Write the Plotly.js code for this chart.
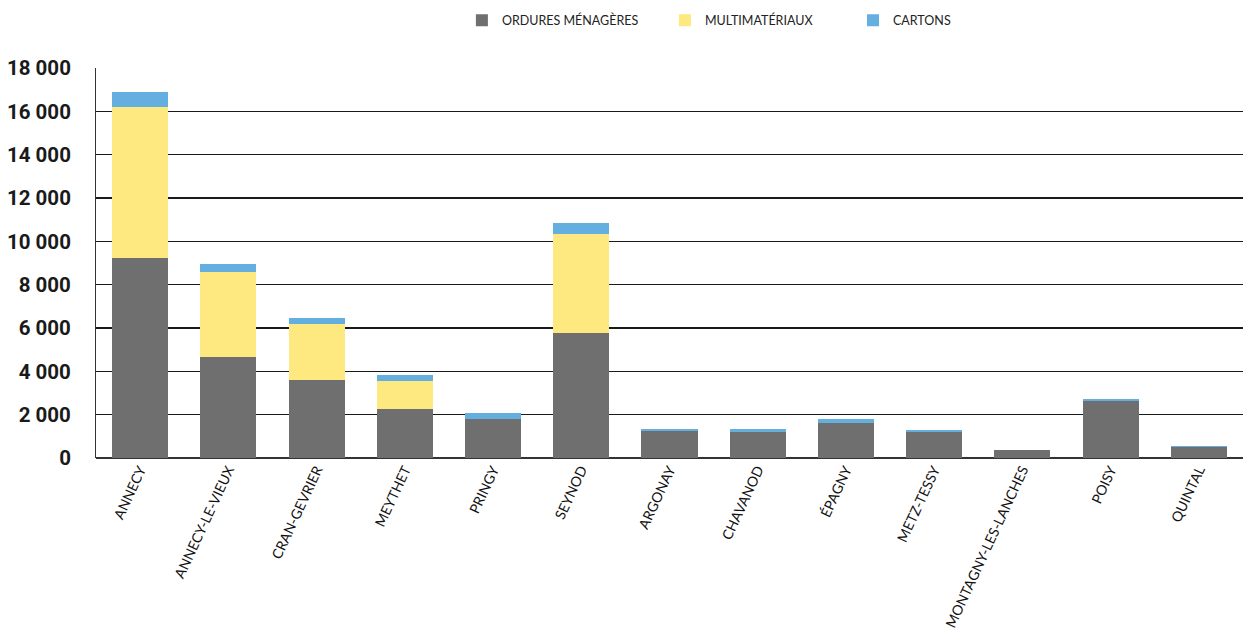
<!DOCTYPE html>
<html>
<head>
<meta charset="utf-8">
<script src="https://cdn.plot.ly/plotly-3.0.1.min.js"></script>
<style>html,body{margin:0;padding:0;background:#fff;}#chart{width:1243px;height:632px;}</style>
</head>
<body>
<div id="chart"></div>
<script>
const communes = ["ANNECY","ANNECY-LE-VIEUX","CRAN-GEVRIER","MEYTHET","PRINGY","SEYNOD","ARGONAY","CHAVANOD","ÉPAGNY","METZ-TESSY","MONTAGNY-LES-LANCHES","POISY","QUINTAL"];
const orduresMenageres = [9230, 4680, 3600, 2260, 1800, 5770, 1245, 1200, 1615, 1200, 370, 2630, 510];
const multimateriaux   = [6970, 3910, 2585, 1290, 0, 4570, 0, 0, 0, 0, 0, 0, 0];
const cartons          = [690, 370, 280, 280, 265, 510, 90, 140, 185, 90, 0, 90, 45];
const seriesNames = ["ORDURES MÉNAGÈRES","MULTIMATÉRIAUX","CARTONS"];
const colors = ["#6f6f6f","#fde980","#65afe0"];
const yTicks = [0,2000,4000,6000,8000,10000,12000,14000,16000,18000];

const legendIds = ["legend","legend2","legend3"];
const data = [orduresMenageres, multimateriaux, cartons].map((vals,i)=>({
  type:"bar", x:communes, y:vals, name:seriesNames[i], legend:legendIds[i],
  marker:{color:colors[i], line:{width:0}}
}));

const legFont = {family:"Lato, 'Open Sans', sans-serif", size:12.5, color:"#222"};
function leg(x){ return {orientation:"h", x:x, xanchor:"left", y:1.160, yanchor:"top", font:legFont, bgcolor:"rgba(0,0,0,0)"}; }

const layout = {
  width:1243, height:632,
  margin:{l:96, r:0, t:68, b:174},
  barmode:"stack", bargap:0.365,
  separators:", ",
  paper_bgcolor:"#fff", plot_bgcolor:"#fff",
  showlegend:true,
  legend:leg(0.319), legend2:leg(0.496), legend3:leg(0.660),
  xaxis:{type:"category", tickangle:-65, showgrid:false, showline:false, ticks:"",
    tickfont:{family:"Lato, 'Open Sans', sans-serif", size:14, color:"#111"}},
  yaxis:{range:[0,18000], tickvals:yTicks, tickformat:",d", showgrid:true, gridcolor:"#1a1a1a", gridwidth:1.5,
    zeroline:true, zerolinecolor:"#333", zerolinewidth:2,
    showline:true, linecolor:"#333", linewidth:1, ticks:"", ticklabelstandoff:20,
    tickfont:{family:"Roboto, sans-serif", size:20.5, color:"#1a1a1a", weight:"bold"}}
};

Plotly.newPlot("chart", data, layout, {staticPlot:true, displayModeBar:false});
</script>
</body>
</html>
